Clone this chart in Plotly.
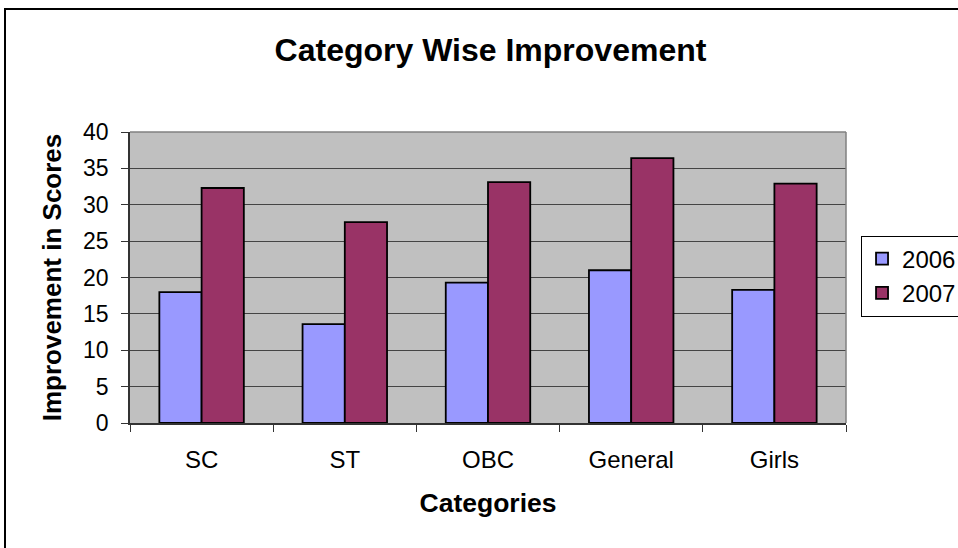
import plotly.graph_objects as go

categories = ["SC", "ST", "OBC", "General", "Girls"]
series_2006 = [18.0, 13.6, 19.3, 21.0, 18.3]
series_2007 = [32.3, 27.6, 33.1, 36.4, 32.9]
y_ticks = [0, 5, 10, 15, 20, 25, 30, 35, 40]

FONT = "Liberation Sans, Arial, sans-serif"

fig = go.Figure()
fig.add_trace(go.Bar(name="2006", x=categories, y=series_2006,
                     marker=dict(color="#9999FF", line=dict(color="black", width=1.8))))
fig.add_trace(go.Bar(name="2007", x=categories, y=series_2007,
                     marker=dict(color="#993366", line=dict(color="black", width=1.8))))

fig.update_layout(
    width=958, height=548,
    margin=dict(l=130, r=112, t=132, b=125, autoexpand=False),
    paper_bgcolor="white", plot_bgcolor="#C0C0C0",
    barmode="group", bargap=0.41, bargroupgap=0,
    font=dict(family=FONT, color="black"),
    title=dict(text="<b>Category Wise Improvement</b>", x=0.512, xanchor="center",
               y=0.909, yanchor="middle", font=dict(size=32, family=FONT)),
    legend=dict(x=1.021, xanchor="left", y=0.644, yanchor="top",
                bgcolor="white", bordercolor="black", borderwidth=1,
                font=dict(size=24, family=FONT), itemwidth=30),
    showlegend=True,
)
fig.update_xaxes(
    title=dict(text="<b>Categories</b>", font=dict(size=26.5), standoff=22),
    tickfont=dict(size=24), ticks="outside", tickson="boundaries", ticklen=7,
    tickcolor="#333", showline=True, linecolor="#333", linewidth=1.5,
    ticklabelstandoff=14, automargin=False,
)
fig.update_yaxes(
    title=dict(text="<b>Improvement in Scores</b>", font=dict(size=26), standoff=14),
    range=[0, 40], tickvals=y_ticks, tickfont=dict(size=23),
    ticks="outside", ticklen=7, tickcolor="#333",
    showline=True, linecolor="#333", linewidth=1.5,
    showgrid=True, gridcolor="#444", gridwidth=1, zeroline=False,
    ticklabelstandoff=8, automargin=False,
)
# plot area top/right border
fig.add_shape(type="line", xref="paper", yref="paper", x0=0, x1=1, y0=1, y1=1,
              line=dict(color="#808080", width=1.5))
fig.add_shape(type="line", xref="paper", yref="paper", x0=1, x1=1, y0=0, y1=1,
              line=dict(color="#808080", width=1.5))
# outer chart border
fig.add_shape(type="rect", xref="paper", yref="paper",
              x0=(5 - 130) / 716, x1=(965 - 130) / 716,
              y0=(423 - 560) / 291, y1=(423 - 9) / 291,
              line=dict(color="black", width=2), layer="below")

fig.write_html("out.html", config={"displayModeBar": False},
               post_script="document.body.style.margin='0';document.body.style.overflow='hidden';")
